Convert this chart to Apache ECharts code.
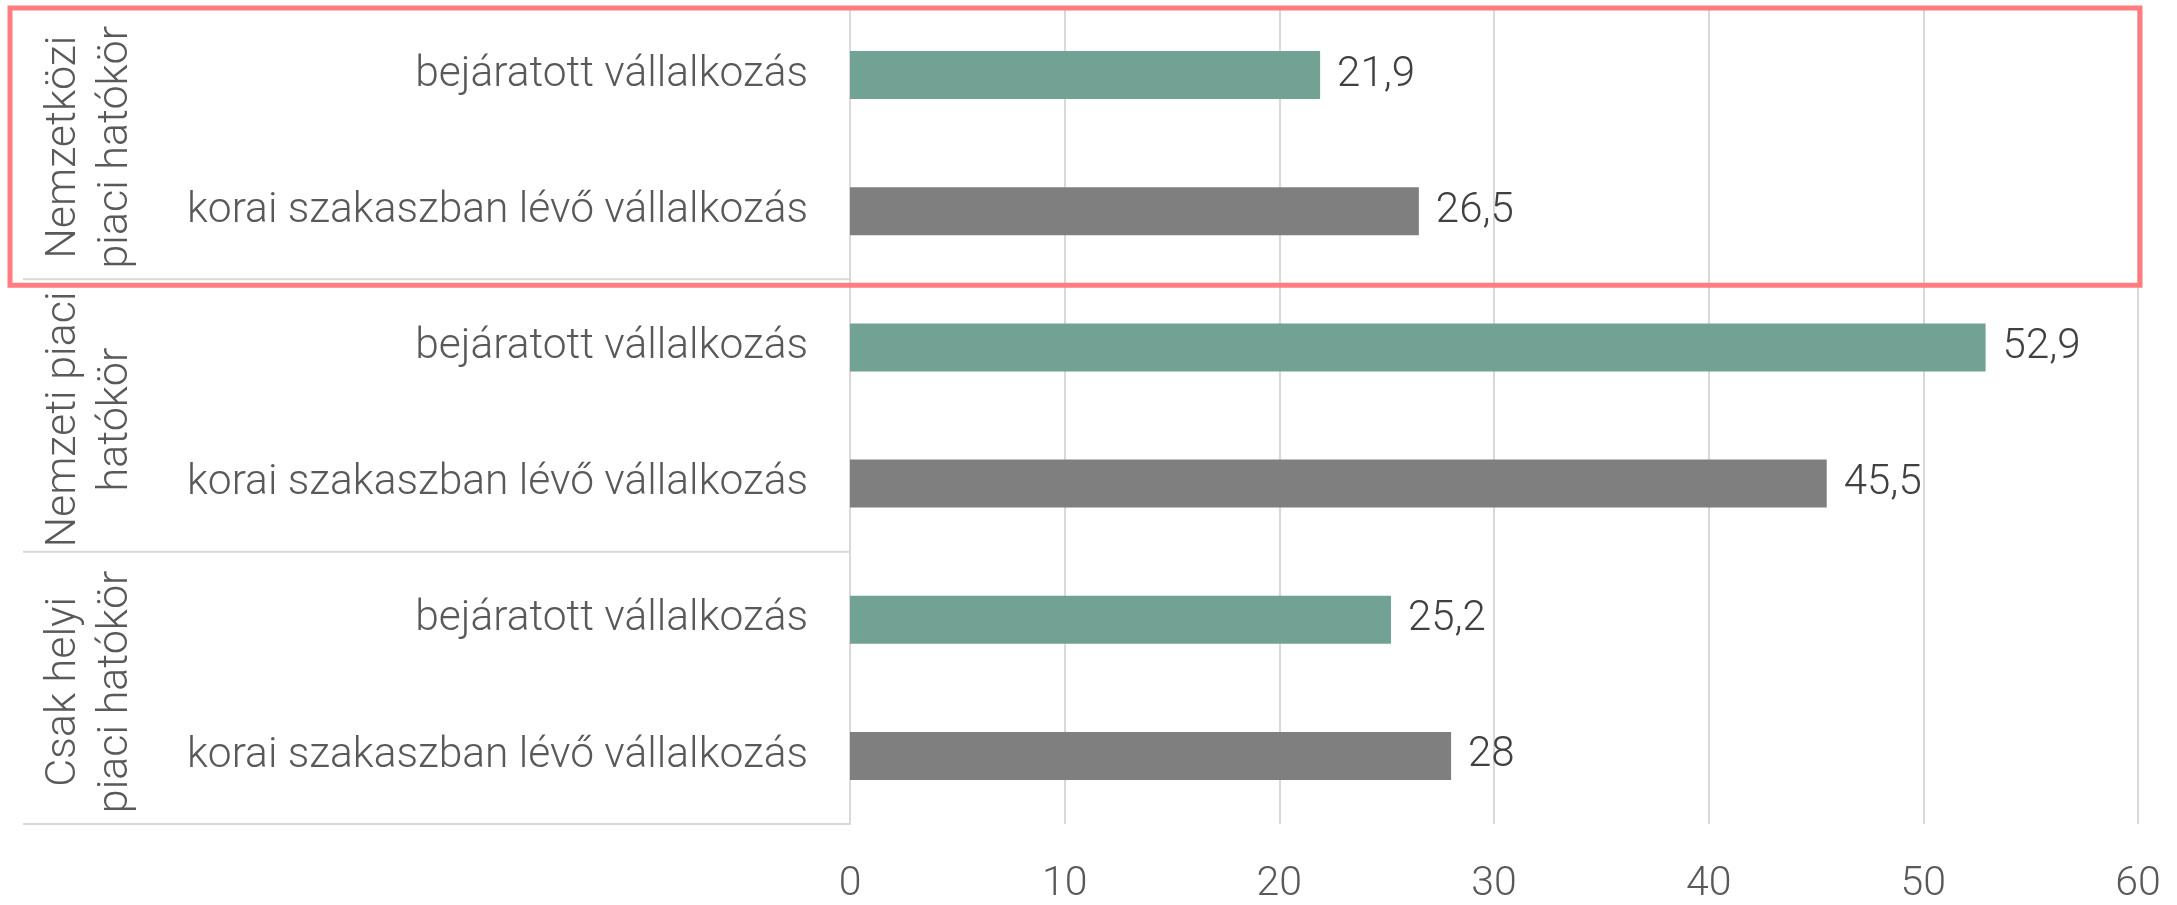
<!DOCTYPE html>
<html><head><meta charset="utf-8">
<script src="https://cdn.jsdelivr.net/npm/echarts@6/dist/echarts.min.js"></script>
<style>html,body{margin:0;padding:0;background:#fff}#c{width:2177px;height:905px}</style>
</head><body><div id="c"></div>
<script>
const groups = ['Nemzetközi\npiaci hatókör', 'Nemzeti piaci\nhatókör', 'Csak helyi\npiaci hatókör'];
const categories = [
  'bejáratott vállalkozás', 'korai szakaszban lévő vállalkozás',
  'bejáratott vállalkozás', 'korai szakaszban lévő vállalkozás',
  'bejáratott vállalkozás', 'korai szakaszban lévő vállalkozás'
];
const values = [21.9, 26.5, 52.9, 45.5, 25.2, 28];
const seriesColors = ['#72A293', '#7F7F7F'];
const xTicks = [0, 10, 20, 30, 40, 50, 60];

const FONT = 'Roboto';
const chart = echarts.init(document.getElementById('c'));
chart.setOption({
  animation: false,
  backgroundColor: '#fff',
  grid: { left: 850, right: 39, top: 7, bottom: 80, containLabel: false },
  xAxis: {
    type: 'value', min: xTicks[0], max: xTicks[xTicks.length - 1], interval: 10,
    axisLine: { show: false }, axisTick: { show: false },
    splitLine: { show: true, lineStyle: { color: '#D9D9D9', width: 2 } },
    axisLabel: { color: '#595959', fontFamily: FONT, fontWeight: 300, fontSize: 41, margin: 40 }
  },
  yAxis: {
    type: 'category', inverse: true, data: categories,
    axisLine: { show: true, lineStyle: { color: '#D9D9D9', width: 2 } },
    axisTick: { show: false },
    axisLabel: { color: '#595959', fontFamily: FONT, fontWeight: 300, fontSize: 42.5, margin: 42 }
  },
  series: [{
    type: 'bar', barWidth: 48,
    data: values.map((v, i) => ({ value: v, itemStyle: { color: seriesColors[i % 2] } })),
    label: {
      show: true, position: 'right', distance: 17, color: '#404040',
      fontFamily: FONT, fontWeight: 300, fontSize: 42,
      formatter: p => String(p.value).replace('.', ',')
    }
  }]
});

function layoutDecor() {
  const c = i => chart.convertToPixel({ yAxisIndex: 0 }, i);
  const band = c(1) - c(0);
  const top = c(0) - band / 2;
  const bounds = [top];
  for (let g = 0; g < groups.length; g++) bounds.push(c(g * 2 + 1) + band / 2);
  const x0 = chart.convertToPixel({ xAxisIndex: 0 }, 0);
  const x60 = chart.convertToPixel({ xAxisIndex: 0 }, xTicks[xTicks.length - 1]);
  const els = [];
  for (let g = 1; g <= groups.length; g++) {
    els.push({ type: 'line', shape: { x1: 23, y1: bounds[g], x2: x0, y2: bounds[g] },
      style: { stroke: '#D9D9D9', lineWidth: 2 }, z: 5 });
  }
  groups.forEach((t, g) => {
    els.push({ type: 'text', x: 90, y: (bounds[g] + bounds[g + 1]) / 2 + 4, rotation: Math.PI / 2,
      style: { text: t, fill: '#595959', font: '300 43px ' + FONT, lineHeight: 52,
        align: 'center', verticalAlign: 'middle' }, z: 6 });
  });
  els.push({ type: 'rect', shape: { x: 10, y: 8, width: x60 + 2 - 10, height: bounds[1] + 6 - 8 },
    style: { fill: 'none', stroke: '#FF7C80', lineWidth: 5 }, z: 10 });
  chart.setOption({ graphic: els });
}
layoutDecor();
</script></body></html>
